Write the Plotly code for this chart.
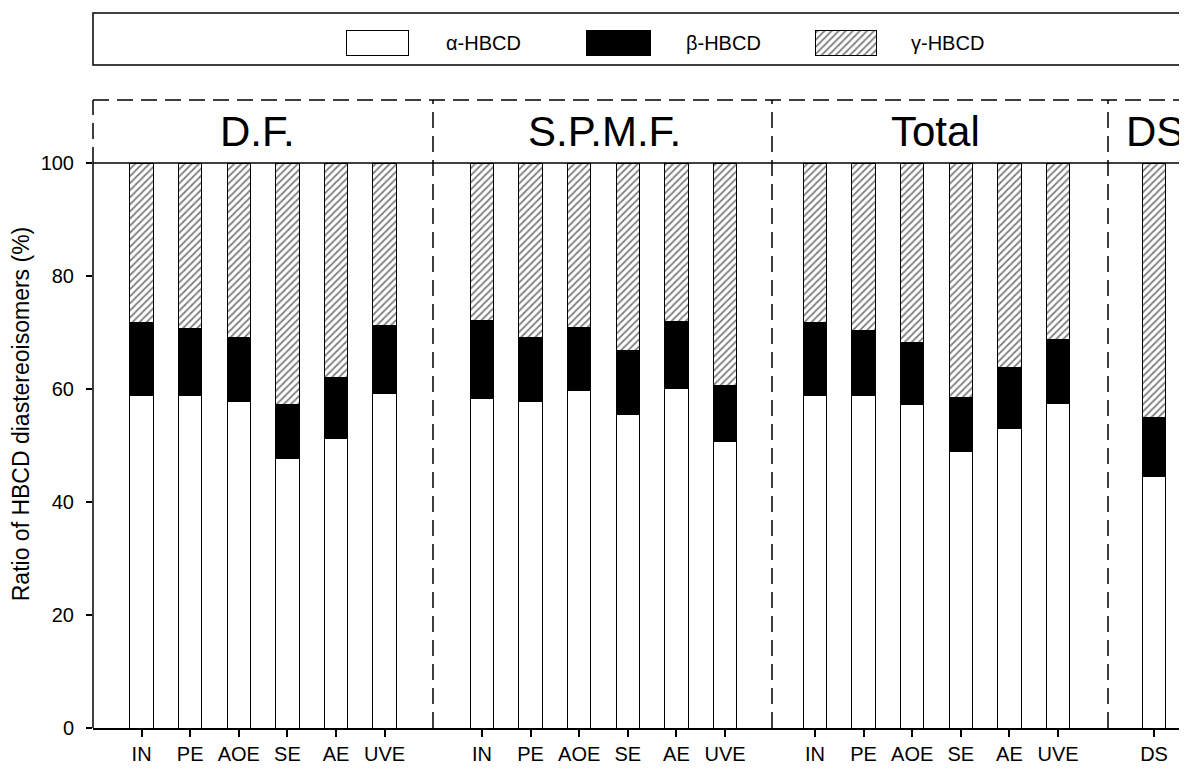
import plotly.graph_objects as go

# ---------------- data ----------------
groups = ["D.F.", "S.P.M.F.", "Total", "DS"]
samples = [
    ["IN", "PE", "AOE", "SE", "AE", "UVE"],
    ["IN", "PE", "AOE", "SE", "AE", "UVE"],
    ["IN", "PE", "AOE", "SE", "AE", "UVE"],
    ["DS"],
]
alpha_df = [58.9, 58.9, 57.8, 47.7, 51.3, 59.2]
beta_df = [12.9, 11.8, 11.3, 9.6, 10.8, 12.1]
gamma_df = [28.2, 29.3, 30.9, 42.7, 37.9, 28.7]

alpha_spmf = [58.3, 57.8, 59.8, 55.4, 60.1, 50.7]
beta_spmf = [13.8, 11.3, 11.1, 11.4, 11.8, 10.0]
gamma_spmf = [27.9, 30.9, 29.1, 33.2, 28.1, 39.3]

alpha_total = [58.9, 58.9, 57.2, 48.9, 53.0, 57.5]
beta_total = [12.9, 11.4, 11.1, 9.6, 10.8, 11.3]
gamma_total = [28.2, 29.7, 31.7, 41.5, 36.2, 31.2]

alpha_ds = [44.5]
beta_ds = [10.5]
gamma_ds = [45.0]

alphas = [alpha_df, alpha_spmf, alpha_total, alpha_ds]
betas = [beta_df, beta_spmf, beta_total, beta_ds]
gammas = [gamma_df, gamma_spmf, gamma_total, gamma_ds]

series_names = ["α-HBCD", "β-HBCD", "γ-HBCD"]
y_ticks = [0, 20, 40, 60, 80, 100]
y_title = "Ratio of HBCD diastereoisomers (%)"

# ---------------- layout geometry (screen pixels) ----------------
W, H = 1187, 772
OFF = 8                       # page body margin offset
X_LEFT, Y_BOTTOM = 93, 728    # screen position of plot area left / bottom
L = X_LEFT - OFF
B = H + OFF - Y_BOTTOM
T, R = 2, 0
PW, PH = W - L - R, H - T - B
def fx(p):
    return (p - X_LEFT) / PW
def fy(p):
    return (Y_BOTTOM - p) / PH

X_RIGHT = X_LEFT + PW
panel_edges = [93, 433, 772, 1108, X_RIGHT]
first_centers = [141.6, 482, 815, 1154]
unit = 48.6
y_header_top = 100   # dashed top line
y_hundred = 163      # pixel of 100 %
y_top_val = 100 * (Y_BOTTOM - y_header_top) / (Y_BOTTOM - y_hundred)
main_top = fy(y_header_top)
label_centers = [257, 604, 935, 1155]

FONT = "Liberation Sans, Arial, sans-serif"
hatch = dict(shape="/", fgcolor="black", bgcolor="white", size=5, solidity=0.35)
fills = [
    dict(color="white", line=dict(color="black", width=1)),
    dict(color="black", line=dict(color="black", width=1)),
    dict(color="white", pattern=hatch, line=dict(color="black", width=1)),
]

fig = go.Figure()

for i in range(4):
    xa = "x" if i == 0 else f"x{i+1}"
    ya = "y" if i == 0 else f"y{i+1}"
    for vals, name, mk in zip([alphas[i], betas[i], gammas[i]], series_names, fills):
        fig.add_trace(go.Bar(
            x=samples[i], y=vals, name=name, marker=mk, width=0.48,
            xaxis=xa, yaxis=ya, showlegend=False,
        ))

layout = dict(
    width=W, height=H, margin=dict(l=L, r=R, t=T, b=B, pad=0, autoexpand=False),
    barmode="stack", plot_bgcolor="white", paper_bgcolor="white",
    font=dict(family=FONT, color="black", size=20),
    showlegend=False,
)

for i in range(4):
    left, right = panel_edges[i], panel_edges[i + 1]
    c0 = first_centers[i]
    rng = [-(c0 - left) / unit, (right - c0) / unit - 0.001]
    key = "xaxis" if i == 0 else f"xaxis{i+1}"
    ykey = "yaxis" if i == 0 else f"yaxis{i+1}"
    layout[key] = dict(
        domain=[fx(left), fx(right)], anchor="y" if i == 0 else f"y{i+1}",
        type="category", range=rng, showline=True, linecolor="black", linewidth=1.5,
        ticks="outside", ticklen=7, tickwidth=1.5, tickcolor="black",
        showgrid=False, zeroline=False, tickfont=dict(size=20, family=FONT),
        fixedrange=True, automargin=False,
    )
    if i == 0:
        layout[ykey] = dict(
            domain=[0, main_top], range=[0, y_top_val], tickvals=y_ticks,
            ticks="outside", ticklen=6, tickwidth=1.5, tickcolor="black",
            showline=False, showgrid=False, zeroline=False, automargin=False,
            tickfont=dict(size=20, family=FONT), ticklabelstandoff=8,
            title=dict(text=y_title, font=dict(size=23, family=FONT), standoff=10),
        )
    else:
        layout[ykey] = dict(
            domain=[0, main_top], range=[0, y_top_val], anchor=f"x{i+1}",
            showticklabels=False, ticks="", showline=False, showgrid=False,
            zeroline=False,
        )

# legend axis (screen pixel coordinates inside the legend box)
leg_top, leg_bot = 13, 65
layout["xaxis5"] = dict(domain=[0, 1], range=[X_LEFT, X_RIGHT], anchor="y5",
                        visible=False, fixedrange=True)
layout["yaxis5"] = dict(domain=[fy(leg_bot), fy(leg_top)], range=[leg_bot, leg_top],
                        anchor="x5", visible=False, fixedrange=True)
fig.update_layout(**layout)

swatch_x = [346, 586, 815]
swatch_w = [62, 64, 61]
text_x = [444, 684, 909]
sw_y = 42.5
for k in range(3):
    fig.add_trace(go.Bar(
        y=[sw_y], x=[swatch_w[k]], base=[swatch_x[k]], orientation="h", width=25,
        marker=fills[k], xaxis="x5", yaxis="y5", showlegend=False, hoverinfo="skip",
    ))
    fig.add_annotation(x=text_x[k], y=sw_y, xref="x5", yref="y5", text=series_names[k],
                       showarrow=False, xanchor="left", yanchor="middle",
                       font=dict(size=20, family=FONT))

shapes = []
line_w = 1.5
dash = "16px,8px"
# legend box
shapes.append(dict(type="rect", xref="paper", yref="paper", x0=0, x1=1.05,
                   y0=fy(leg_bot), y1=fy(leg_top), line=dict(color="black", width=line_w)))
# dashed header top line
shapes.append(dict(type="line", xref="paper", yref="paper", x0=0, x1=1.05,
                   y0=main_top, y1=main_top, line=dict(color="black", width=line_w, dash=dash)))
# solid 100 % line
shapes.append(dict(type="line", xref="paper", yref="y", x0=0, x1=1.05,
                   y0=100, y1=100, line=dict(color="black", width=line_w)))
# left axis: solid up to 100 %, dashed above
shapes.append(dict(type="line", xref="paper", yref="y", x0=0, x1=0,
                   y0=0, y1=100, line=dict(color="black", width=line_w)))
shapes.append(dict(type="line", xref="paper", yref="paper", x0=0, x1=0,
                   y0=fy(y_hundred), y1=main_top, line=dict(color="black", width=line_w, dash=dash)))
# dashed dividers
for p in panel_edges[1:4]:
    shapes.append(dict(type="line", xref="paper", yref="paper", x0=fx(p), x1=fx(p),
                       y0=0, y1=main_top, line=dict(color="black", width=line_w, dash=dash)))
fig.update_layout(shapes=shapes)

for g, c in zip(groups, label_centers):
    fig.add_annotation(x=fx(c), y=fy(131), xref="paper", yref="paper", text=g,
                       showarrow=False, xanchor="center", yanchor="middle",
                       font=dict(size=42, family=FONT))

fig.write_html("out.html")
